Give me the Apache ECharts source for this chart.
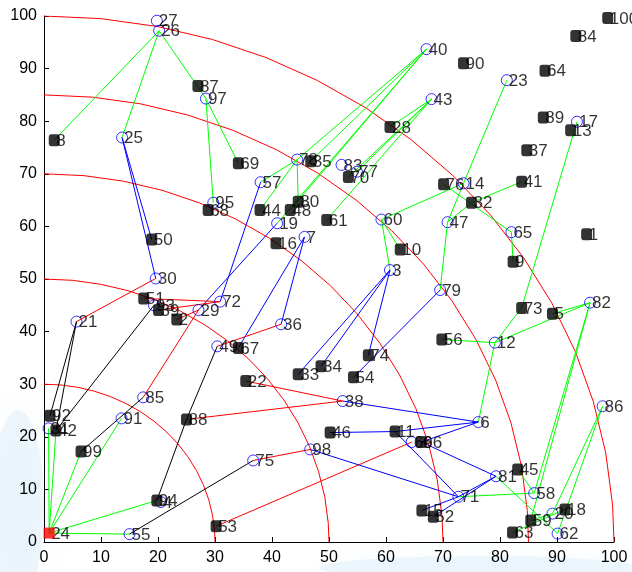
<!DOCTYPE html>
<html>
<head>
<meta charset="utf-8">
<script src="https://cdn.jsdelivr.net/npm/echarts@6/dist/echarts.min.js"></script>
<style>
  html, body { margin: 0; padding: 0; background: #fff; }
  #chart { width: 632px; height: 572px; }
</style>
</head>
<body>
<div id="chart"></div>
<script>
// Served customers (open circles): id, x, y
const openIds = [3, 4, 6, 7, 12, 14, 17, 19, 20, 21, 23, 25, 26, 27, 29, 30, 31, 36, 38, 40, 43, 47, 49, 55, 57, 58, 60, 62, 65, 66, 71, 72, 75, 77, 78, 79, 81, 82, 83, 85, 86, 91, 93, 95, 97, 98];
const openX = [60.7, 20.5, 76.2, 45.7, 79.1, 73.6, 93.5, 40.9, 89.2, 5.7, 81.2, 13.7, 20.2, 19.8, 27.1, 19.6, 0.8, 41.6, 52.4, 67.1, 68.0, 70.8, 30.4, 15.0, 38.0, 86.0, 59.2, 90.1, 82.0, 64.5, 72.7, 30.9, 36.7, 54.9, 44.4, 69.5, 79.3, 95.8, 52.2, 17.4, 98.0, 13.6, 19.3, 29.7, 28.4, 46.7];
const openY = [51.7, 7.6, 22.8, 58.0, 37.9, 68.2, 79.9, 60.6, 5.4, 41.9, 87.8, 76.9, 97.2, 99.1, 44.1, 50.1, 21.6, 41.4, 26.8, 93.7, 84.2, 60.8, 37.2, 1.5, 68.4, 9.3, 61.3, 1.6, 58.9, 19.0, 8.6, 45.7, 15.5, 70.4, 72.7, 47.9, 12.5, 45.5, 71.7, 27.5, 25.8, 23.5, 45.0, 64.5, 84.3, 17.6];

// Other customers (filled marks): id, x, y
const filledIds = [1, 2, 5, 8, 9, 10, 11, 13, 15, 16, 18, 22, 28, 32, 33, 34, 35, 37, 39, 41, 42, 44, 45, 46, 48, 50, 51, 52, 53, 54, 56, 59, 61, 63, 64, 67, 68, 69, 70, 73, 74, 76, 80, 84, 87, 88, 89, 90, 92, 94, 96, 99, 100];
const filledX = [95.2, 23.3, 89.2, 1.8, 82.3, 62.5, 61.6, 92.4, 66.3, 40.7, 91.4, 35.4, 60.7, 75.0, 44.6, 48.6, 46.8, 84.7, 20.1, 83.8, 2.1, 37.9, 83.1, 50.2, 43.2, 18.9, 17.5, 68.3, 30.2, 54.3, 69.8, 85.4, 49.6, 82.2, 87.9, 34.1, 28.8, 34.1, 53.4, 83.8, 56.9, 70.1, 44.6, 93.3, 27.0, 25.0, 87.6, 73.6, 1.05, 19.8, 66.2, 6.5, 98.9];
const filledY = [58.5, 42.3, 43.4, 76.4, 53.3, 55.6, 21.0, 78.3, 6.0, 56.8, 6.2, 30.6, 78.9, 64.5, 31.9, 33.4, 72.4, 74.5, 44.1, 68.5, 21.2, 63.1, 13.8, 20.8, 63.1, 57.5, 46.3, 4.8, 3.0, 31.3, 38.5, 4.1, 61.2, 1.8, 89.6, 36.9, 63.1, 72.0, 69.4, 44.5, 35.5, 68.0, 64.7, 96.2, 86.7, 23.3, 80.7, 91.0, 24.0, 7.9, 19.0, 17.2, 99.6];

// Depot
const depotId = 24;
const depotXY = [0.9, 1.7];

// Zone boundary radii (quarter circles about the origin)
const zoneRadii = [30, 50, 70, 85, 100];

// Route legs by vehicle colour: [from, to]
const greenLegs = [
  [8, 26], [25, 26], [26, 97], [97, 69], [97, 95],
  [57, 78], [44, 78], [78, 80], [40, 78], [40, 35], [40, 48], [40, 19], [43, 70], [43, 61], [43, 77], [43, 28],
  [60, 14], [60, 10], [60, 3], [23, 14], [14, 47], [47, 79], [47, 32], [32, 41], [76, 65], [65, 9],
  [17, 73], [73, 12], [12, 56], [12, 6], [12, 82], [5, 82],
  [71, 58], [45, 58], [58, 82], [59, 82], [86, 20], [86, 62], [81, 62], [63, 18], [59, 20],
  [24, 55], [24, 94], [24, 91], [24, 99], [24, 42], [24, 31]
];
const blueLegs = [
  [25, 50], [25, 30], [57, 72], [19, 29], [7, 67], [7, 36],
  [3, 33], [3, 34], [3, 74], [79, 54], [38, 6], [46, 11], [11, 6], [96, 6],
  [11, 71], [96, 81], [98, 71], [71, 81], [15, 71], [52, 81]
];
const redLegs = [
  [30, 21], [51, 72], [39, 72], [2, 29], [29, 85], [49, 36],
  [22, 38], [88, 38], [75, 98], [53, 66]
];
const blackLegs = [
  [21, 92], [21, 42], [42, 93], [99, 85], [88, 49], [94, 88], [55, 75]
];

// ---- lookup of node positions ----
const pos = {};
openIds.forEach((id, i) => { pos[id] = [openX[i], openY[i]]; });
filledIds.forEach((id, i) => { pos[id] = [filledX[i], filledY[i]]; });
pos[depotId] = depotXY;

function legSeries(legs, color) {
  return {
    type: 'lines',
    coordinateSystem: 'cartesian2d',
    polyline: false,
    silent: true,
    z: 3,
    lineStyle: { color: color, width: 1, opacity: 1 },
    data: legs.map(([a, b]) => ({ coords: [pos[a], pos[b]] }))
  };
}

function arcSeries(r) {
  const pts = [];
  for (let t = 0; t < Math.PI / 2; t += 0.1) pts.push([r * Math.sin(t), r * Math.cos(t)]);
  pts.push([r, 0]);
  return {
    type: 'line', data: pts, showSymbol: false, silent: true, z: 2,
    lineStyle: { color: '#ff0000', width: 1 }
  };
}

const labelData = [];
openIds.forEach((id, i) => labelData.push([openX[i], openY[i], String(id)]));
filledIds.forEach((id, i) => labelData.push([filledX[i], filledY[i], String(id)]));
labelData.push([depotXY[0], depotXY[1], String(depotId)]);

const axisText = { color: '#000', fontSize: 16, fontFamily: 'Liberation Sans, Arial, sans-serif' };

const chart = echarts.init(document.getElementById('chart'), null, { renderer: 'canvas' });
chart.setOption({
  animation: false,
  backgroundColor: '#fff',
  // faint bluish smudges along the bottom edge of the figure
  graphic: [
    { type: 'ellipse', z: -10, silent: true, shape: { cx: 18, cy: 505, rx: 26, ry: 95 },
      style: { fill: 'rgba(205,230,247,0.32)', shadowBlur: 35, shadowColor: 'rgba(205,230,247,0.6)' } },
    { type: 'ellipse', z: -10, silent: true, shape: { cx: 480, cy: 568, rx: 160, ry: 12 },
      style: { fill: 'rgba(205,232,248,0.35)', shadowBlur: 25, shadowColor: 'rgba(205,232,248,0.6)' } }
  ],
  grid: { left: 44, right: 18, top: 16, bottom: 30, containLabel: false },
  xAxis: {
    type: 'value', min: 0, max: 100, interval: 10,
    axisLine: { show: true, lineStyle: { color: '#000', width: 1 } },
    axisTick: { show: true, inside: true, length: 5, lineStyle: { color: '#000' } },
    axisLabel: Object.assign({ margin: 8 }, axisText),
    splitLine: { show: false }
  },
  yAxis: {
    type: 'value', min: 0, max: 100, interval: 10,
    axisLine: { show: true, lineStyle: { color: '#000', width: 1 } },
    axisTick: { show: true, inside: true, length: 5, lineStyle: { color: '#000' } },
    axisLabel: Object.assign({ margin: 7 }, axisText),
    splitLine: { show: false }
  },
  series: [
    ...zoneRadii.map(arcSeries),
    legSeries(greenLegs, '#00ff00'),
    legSeries(blueLegs, '#0000ff'),
    legSeries(redLegs, '#ff0000'),
    legSeries(blackLegs, '#000000'),
    {
      type: 'scatter', silent: true, z: 4,
      symbol: 'circle', symbolSize: 11,
      itemStyle: { color: 'rgba(0,0,0,0)', borderColor: '#0000ff', borderWidth: 1 },
      data: openIds.map((id, i) => [openX[i], openY[i]])
    },
    {
      type: 'scatter', silent: true, z: 5,
      symbolSize: 0,
      label: {
        show: true, position: 'right', distance: 2, offset: [0, 1],
        formatter: p => p.data[2],
        color: '#000', fontSize: 17, fontFamily: 'Liberation Sans, Arial, sans-serif'
      },
      data: labelData
    },
    {
      type: 'scatter', silent: true, z: 6,
      symbol: 'roundRect', symbolSize: [11, 12],
      itemStyle: { color: '#000' },
      data: filledIds.map((id, i) => [filledX[i], filledY[i]])
    },
    {
      type: 'scatter', silent: true, z: 7,
      symbol: 'rect', symbolSize: 11,
      itemStyle: { color: '#ff0000' },
      data: [depotXY]
    }
  ]
});
</script>
</body>
</html>
